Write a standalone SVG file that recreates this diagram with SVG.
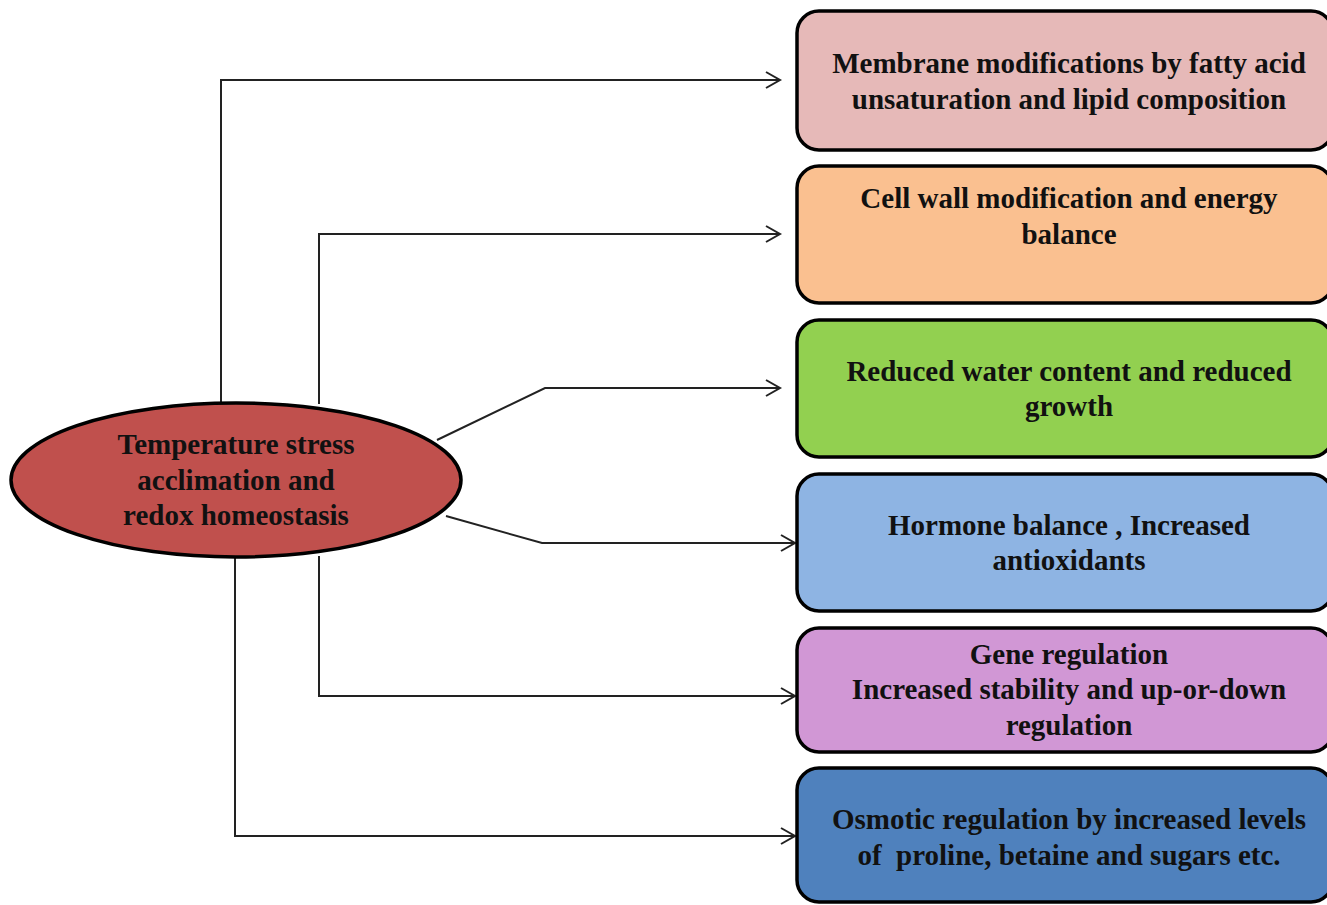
<svg xmlns="http://www.w3.org/2000/svg" width="1327" height="905" viewBox="0 0 1327 905">
<style>
.t{font-family:"Liberation Serif","Times New Roman",serif;font-weight:bold;font-size:29px;fill:#111;text-anchor:middle}
.box{stroke:#000;stroke-width:3.5}
.c{fill:none;stroke:#222;stroke-width:2}
</style>
<defs>
<marker id="arr" markerWidth="20" markerHeight="20" refX="16" refY="9" orient="auto" markerUnits="userSpaceOnUse">
<path d="M2,1 L16,9 L2,17" fill="none" stroke="#222" stroke-width="2"/>
</marker>
</defs>
<rect width="1327" height="905" fill="#fff"/>
<g id="connectors">
<path class="c" d="M221,402 V80 H780" marker-end="url(#arr)"/>
<path class="c" d="M319,404 V234 H780" marker-end="url(#arr)"/>
<path class="c" d="M437,440 L545,388 H780" marker-end="url(#arr)"/>
<path class="c" d="M446,516 L542,543 H795" marker-end="url(#arr)"/>
<path class="c" d="M319,556 V696 H795" marker-end="url(#arr)"/>
<path class="c" d="M235,556 V836 H795" marker-end="url(#arr)"/>
</g>
<g id="center">
<ellipse cx="236" cy="480" rx="225" ry="77" fill="#c0504d" stroke="#000" stroke-width="3.5"/>
<text class="t" x="236" y="454">Temperature stress</text>
<text class="t" x="236" y="490">acclimation and</text>
<text class="t" x="236" y="525">redox homeostasis</text>
</g>
<g id="box1">
<rect class="box" x="797" y="11" width="536" height="139" rx="22" fill="#e6b9b8"/>
<text class="t" x="1069" y="73">Membrane modifications by fatty acid</text>
<text class="t" x="1069" y="109">unsaturation and lipid composition</text>
</g>
<g id="box2">
<rect class="box" x="797" y="166" width="536" height="137" rx="22" fill="#fac090"/>
<text class="t" x="1069" y="208">Cell wall modification and energy</text>
<text class="t" x="1069" y="244">balance</text>
</g>
<g id="box3">
<rect class="box" x="797" y="320" width="536" height="137" rx="22" fill="#92d050"/>
<text class="t" x="1069" y="381">Reduced water content and reduced</text>
<text class="t" x="1069" y="416">growth</text>
</g>
<g id="box4">
<rect class="box" x="797" y="474" width="536" height="137" rx="22" fill="#8eb4e3"/>
<text class="t" x="1069" y="535">Hormone balance , Increased</text>
<text class="t" x="1069" y="570">antioxidants</text>
</g>
<g id="box5">
<rect class="box" x="797" y="628" width="536" height="124" rx="22" fill="#d197d5"/>
<text class="t" x="1069" y="664">Gene regulation</text>
<text class="t" x="1069" y="699">Increased stability and up-or-down</text>
<text class="t" x="1069" y="735">regulation</text>
</g>
<g id="box6">
<rect class="box" x="797" y="768" width="536" height="134" rx="22" fill="#4f81bd"/>
<text class="t" x="1069" y="829">Osmotic regulation by increased levels</text>
<text class="t" x="1069" y="865" xml:space="preserve">of  proline, betaine and sugars etc.</text>
</g>
</svg>
